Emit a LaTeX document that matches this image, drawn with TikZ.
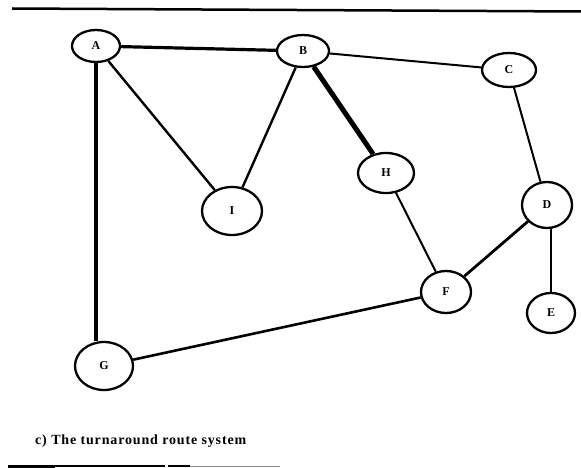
\documentclass[tikz,border=0pt]{standalone}
\usepackage{fontspec}
\setmainfont{Liberation Serif}
\usetikzlibrary{shapes.geometric}
\tikzset{
  town/.style={ellipse, draw, line width=2.3pt, inner sep=0pt, font=\fontsize{12}{12}\selectfont\bfseries},
  road/.style={line width=2pt},
  mainroad/.style={line width=3.2pt},
  heavyroad/.style={line width=5pt},
}
\begin{document}
\begin{tikzpicture}[x=1pt,y=-1pt]
\useasboundingbox (0,0) rectangle (581,468);
% rules
\draw[line width=2.5pt] (12,8.5) -- (581,11.5);
\draw[line width=2.2pt] (8,466) -- (165,466);
\draw[line width=3pt] (8,466) -- (55,466);
\draw[line width=1.6pt] (168,466) -- (190,466);
\draw[line width=1pt, black!45] (190,466) -- (280,466);
% towns
\node[town, minimum width=48pt, minimum height=32pt] (A) at (96,46) {A};
\node[town, minimum width=52pt, minimum height=32pt] (B) at (303,51) {B};
\node[town, minimum width=54pt, minimum height=34pt] (C) at (509,70) {C};
\node[town, minimum width=56pt, minimum height=40pt] (H) at (386,173) {H};
\node[town, minimum width=50pt, minimum height=46pt] (D) at (547,205) {D};
\node[town, minimum width=50pt, minimum height=42pt] (F) at (446,292) {F};
\node[town, minimum width=48pt, minimum height=40pt] (E) at (551,313) {E};
\node[town, minimum width=60pt, minimum height=48pt] (I) at (232,211) {I};
\node[town, minimum width=58pt, minimum height=48pt] (G) at (104,366) {G};
% roads
\draw[mainroad] (A) -- (B);
\draw[road] (B) -- (C);
\draw[road, line width=2.4pt] (A) -- (I);
\draw[road, line width=2.4pt] (B) -- (I);
\draw[heavyroad] (B) -- (H);
\draw[road] (C) -- (D);
\draw[road] (H) -- (F);
\draw[mainroad, line width=2.8pt] (D) -- (F);
\draw[mainroad, line width=2.8pt] (D.south -| E.north) -- (E);
\draw[mainroad] (A) -- (A |- G.north);
\draw[road, line width=2.6pt] (G) -- (F);
% caption
\node[anchor=west, inner sep=0pt, font=\fontsize{14}{16}\selectfont\bfseries\addfontfeature{LetterSpace=6}] (cap) at (35,441) {c) The turnaround route system};
\end{tikzpicture}
\end{document}
